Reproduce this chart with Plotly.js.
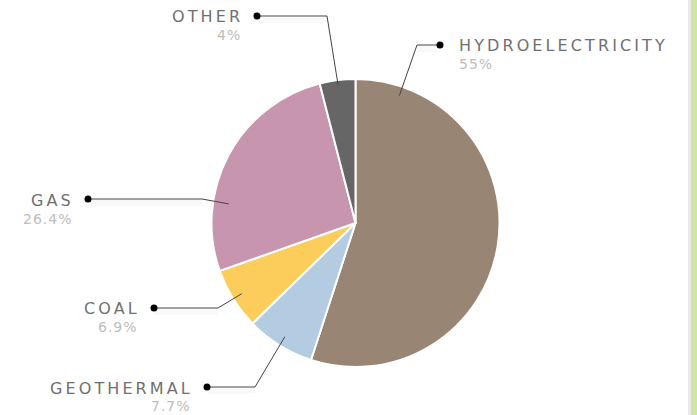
<!DOCTYPE html>
<html>
<head>
<meta charset="utf-8">
<script src="https://cdn.plot.ly/plotly-3.0.1.min.js"></script>
<style>
html,body{margin:0;padding:0;background:#fff;}
#chart{width:697px;height:415px;}
</style>
</head>
<body>
<div id="chart"></div>
<script>
// ---- data ----
const categories = ["Hydroelectricity", "Geothermal", "Coal", "Gas", "Other"];
const values = [55, 7.7, 6.9, 26.4, 4];
const percentLabels = ["55%", "7.7%", "6.9%", "26.4%", "4%"];
const colors = ["#988573", "#b3cce2", "#fdcd5b", "#c795ae", "#666666"];

// ---- layout config (label placement, in pixels) ----
const W = 697, H = 415;
const pieCenter = [355.5, 223];
const pieRadius = 144;
const labelCfg = {
  "Hydroelectricity": {side: "right", dot: [440, 45], elbow: [417, 45], angleShift: -80, rf: 0.935, nameY: 46, pctY: 64},
  "Geothermal":       {side: "left",  dot: [207, 387], elbow: [255, 387], angleShift: 0, rf: 0.93, nameY: 388, pctY: 406},
  "Coal":             {side: "left",  dot: [154, 308], elbow: [218, 308], angleShift: 0, rf: 0.93, nameY: 308.5, pctY: 326.5},
  "Gas":              {side: "left",  dot: [88, 199], elbow: [202, 199], angleShift: -19.5, rf: 0.89, nameY: 200.5, pctY: 219},
  "Other":            {side: "left",  dot: [257, 16], elbow: [327, 16], angleShift: 0, rf: 0.97, nameY: 16.5, pctY: 35}
};
const nameSpacing = 3.1, pctSpacing = 1;

const px = x => x / W;
const py = y => 1 - y / H;

const total = values.reduce((a, b) => a + b, 0);
const shapes = [];
const annotations = [];
let cum = 0;
categories.forEach((cat, i) => {
  const frac = values[i] / total;
  const midDeg = (cum + frac / 2) * 360;
  cum += frac;
  const c = labelCfg[cat];
  const a = (midDeg + c.angleShift) * Math.PI / 180;
  const ex = pieCenter[0] + Math.sin(a) * pieRadius * c.rf;
  const ey = pieCenter[1] - Math.cos(a) * pieRadius * c.rf;
  // soft shadow
  shapes.push({type: "path", xref: "paper", yref: "paper", layer: "above",
    path: `M${px(c.dot[0])},${py(c.dot[1] + 4)} L${px(c.elbow[0])},${py(c.elbow[1] + 4)}`,
    line: {color: "rgba(0,0,0,0.025)", width: 6}});
  shapes.push({type: "path", xref: "paper", yref: "paper", layer: "above",
    path: `M${px(c.dot[0])},${py(c.dot[1])} L${px(c.elbow[0])},${py(c.elbow[1])} L${px(ex)},${py(ey)}`,
    line: {color: "#444", width: 1}});
  shapes.push({type: "circle", xref: "paper", yref: "paper", layer: "above",
    xsizemode: "pixel", ysizemode: "pixel",
    xanchor: px(c.dot[0]), yanchor: py(c.dot[1]),
    x0: -3.5, x1: 3.5, y0: -3.5, y1: 3.5,
    fillcolor: "#000", line: {width: 0}});
  const right = c.side === "left";
  const tx = right ? c.dot[0] - 15 + nameSpacing : c.dot[0] + 17;
  const ptx = right ? c.dot[0] - 15 + pctSpacing : c.dot[0] + 17;
  annotations.push({xref: "paper", yref: "paper", x: px(tx), y: py(c.nameY),
    xanchor: right ? "right" : "left", yanchor: "middle", showarrow: false,
    text: `<span style="letter-spacing:${nameSpacing}px">${cat.toUpperCase()}</span>`,
    font: {family: "DejaVu Sans, Verdana, sans-serif", size: 16, color: "#707070"}});
  annotations.push({xref: "paper", yref: "paper", x: px(ptx), y: py(c.pctY),
    xanchor: right ? "right" : "left", yanchor: "middle", showarrow: false,
    text: `<span style="letter-spacing:${pctSpacing}px">${percentLabels[i]}</span>`,
    font: {family: "DejaVu Sans, Verdana, sans-serif", size: 14, color: "#bdbdbd"}});
});

// right-hand page border
shapes.push({type: "rect", xref: "paper", yref: "paper", x0: px(688), x1: px(691), y0: 0, y1: 1,
  fillcolor: "#e9e9e9", line: {width: 0}, layer: "below"});
shapes.push({type: "rect", xref: "paper", yref: "paper", x0: px(691), x1: 1, y0: 0, y1: 1,
  fillcolor: "#cfe6a2", line: {width: 0}, layer: "below"});

const trace = {
  type: "pie",
  labels: categories,
  values: values,
  sort: false,
  direction: "clockwise",
  rotation: 0,
  textinfo: "none",
  hoverinfo: "label+percent",
  marker: {colors: colors, line: {color: "#ffffff", width: 2}},
  domain: {
    x: [px(pieCenter[0] - pieRadius), px(pieCenter[0] + pieRadius)],
    y: [py(pieCenter[1] + pieRadius), py(pieCenter[1] - pieRadius)]
  },
  showlegend: false
};

const layout = {
  width: W, height: H,
  margin: {l: 0, r: 0, t: 0, b: 0},
  paper_bgcolor: "#ffffff",
  showlegend: false,
  shapes: shapes,
  annotations: annotations
};

Plotly.newPlot("chart", [trace], layout, {displayModeBar: false, staticPlot: true});
</script>
</body>
</html>
